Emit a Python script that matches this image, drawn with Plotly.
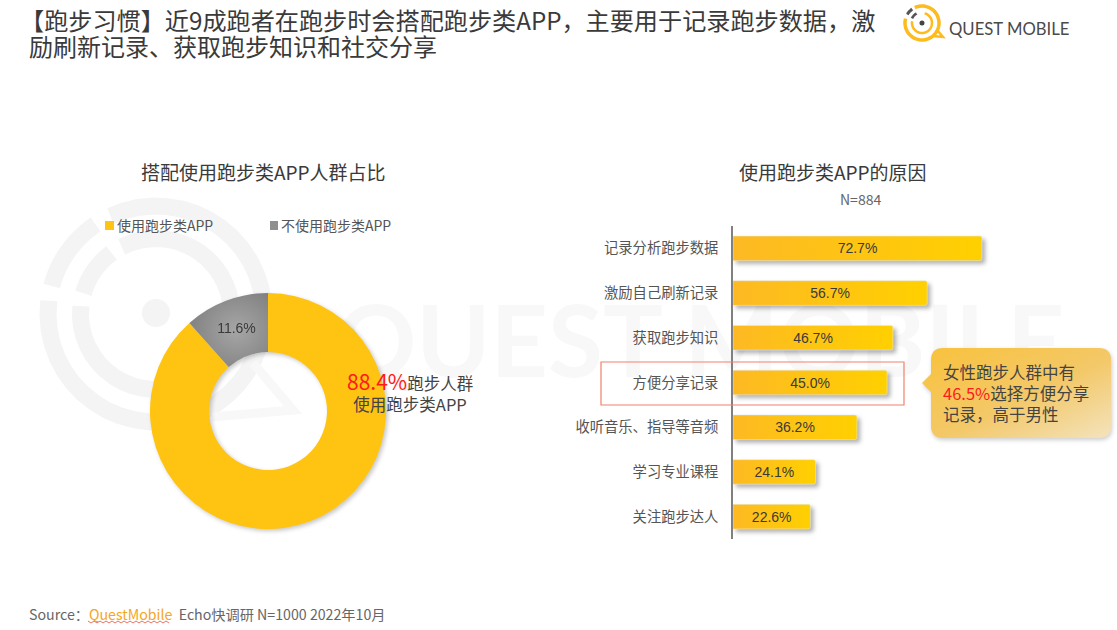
import numpy as np
import plotly.graph_objects as go

W, H = 1117, 630
CJK = 'Noto Sans CJK SC'

# 饼图数据
pie_labels = ['使用跑步类APP', '不使用跑步类APP']
pie_values = [88.4, 11.6]
pie_text = ['', '11.6%']
pie_colors = ['#ffc312', '#8f8f8f']

# 条形图数据
reasons = ['记录分析跑步数据', '激励自己刷新记录', '获取跑步知识', '方便分享记录',
           '收听音乐、指导等音频', '学习专业课程', '关注跑步达人']
reason_values = [72.7, 56.7, 46.7, 45.0, 36.2, 24.1, 22.6]


def arc(cx, cy, r, a0, a1, n=40):
    # 圆弧路径,角度从正上方顺时针
    t = np.radians(np.linspace(a0, a1, n))
    xs = cx + r * np.sin(t)
    ys = cy - r * np.cos(t)
    return 'M' + ' L'.join(f'{x:.1f},{y:.1f}' for x, y in zip(xs, ys))


def texto(x, y, text, size=13, color='#555555', anchor='left', family=CJK):
    return dict(x=x, y=y, xref='x', yref='y', text=text, showarrow=False, xanchor=anchor,
                yanchor='middle', align=anchor if anchor != 'middle' else 'center',
                font=dict(size=size, color=color, family=family))


fig = go.Figure()

# 水印文字放在最底层
fig.add_trace(go.Scatter(x=[700], y=[352], mode='text', text=['QUEST MOBILE'], hoverinfo='skip',
                         showlegend=False, cliponaxis=False,
                         textfont=dict(size=100, color='#f8f8f8', family='Lato', weight=700)))

fig.add_trace(go.Bar(x=reason_values, y=reasons, orientation='h', xaxis='x2', yaxis='y2',
                     marker=dict(color='#ffc31a', cornerradius=2),
                     text=[f'{v:.1f}%' for v in reason_values], textposition='inside',
                     insidetextanchor='middle', constraintext='none',
                     textfont=dict(size=14, color='#3a3a3a', family='Liberation Sans'),
                     showlegend=False))

fig.add_trace(go.Pie(labels=pie_labels, values=pie_values, text=pie_text, textinfo='text',
                     sort=False, direction='clockwise', hole=0.5, rotation=0,
                     insidetextorientation='horizontal', textposition='inside',
                     marker=dict(colors=pie_colors), showlegend=False,
                     textfont=dict(size=14, color='#3a3a3a', family='Liberation Sans'),
                     domain=dict(x=[150 / W, 386 / W], y=[1 - 529 / H, 1 - 293 / H])))

wm = '#f4f4f4'
shapes = [
    # 水印圆环
    dict(type='path', path=arc(156, 314, 108, -25, 277), line=dict(color=wm, width=17), layer='below'),
    dict(type='path', path=arc(156, 314, 108, 285, 326), line=dict(color=wm, width=17), layer='below'),
    dict(type='path', path=arc(156, 314, 75.5, -27, 276), line=dict(color=wm, width=17), layer='below'),
    dict(type='path', path=arc(156, 314, 75.5, 286, 324), line=dict(color=wm, width=17), layer='below'),
    dict(type='circle', x0=142, x1=170, y0=299, y1=327, fillcolor=wm, line_width=0, layer='below'),
    dict(type='path', path='M253,363 L293,410 L212,417', line=dict(color='#f8f8f8', width=9), layer='below'),
    # 图例色块
    dict(type='rect', x0=105, x1=114, y0=221, y1=230, fillcolor=pie_colors[0], line_width=0),
    dict(type='rect', x0=270, x1=278, y0=221, y1=230, fillcolor=pie_colors[1], line_width=0),
    # 高亮框
    dict(type='rect', x0=601, x1=904, y0=362, y1=405, line=dict(color='#f0806c', width=1.2)),
    # 气泡
    dict(type='path', fillcolor='#f4c760', line_width=0,
         path='M943,348 L1099,348 Q1111,348 1111,360 L1111,426 Q1111,438 1099,438 L943,438 '
              'Q931,438 931,426 L931,392 L922,383 L931,374 L931,360 Q931,348 943,348 Z'),
    # logo
    dict(type='path', path=arc(922, 23, 17, -25, 285), line=dict(color='#fdbb1d', width=3.5)),
    dict(type='path', path=arc(922, 23, 10, 15, 280), line=dict(color='#fdbb1d', width=2.5)),
    dict(type='path', path='M933,36 L943,37 L937,30', line=dict(color='#fdbb1d', width=2.5)),
    dict(type='circle', x0=919.5, x1=924.5, y0=20.5, y1=25.5, fillcolor='#444444', line_width=0),
    dict(type='path', path=arc(922, 23, 17, 300, 325), line=dict(color='#555555', width=3)),
    dict(type='path', path=arc(922, 23, 11, 295, 330), line=dict(color='#555555', width=2.5)),
]

# Source 下的波浪线
wave = [f'{x},{622 + (1.2 if i % 2 else -1.2) * 0.8}' for i, x in enumerate(range(88, 172, 3))]
shapes.append(dict(type='path', path='M' + ' L'.join(wave), line=dict(color='#e8503a', width=0.8)))

annotations = [
    texto(18, 19, '【跑步习惯】近9成跑者在跑步时会搭配跑步类APP，主要用于记录跑步数据，激', 24.15, '#3a3a3a'),
    texto(27, 45, '励刷新记录、获取跑步知识和社交分享', 24, '#3a3a3a'),
    texto(947, 29, 'QUEST MOBILE', 16.7, '#4a4a4a', family='Lato'),
    texto(263, 171, '搭配使用跑步类APP人群占比', 19, '#3a3a3a', 'center'),
    texto(833, 171, '使用跑步类APP的原因', 19, '#3a3a3a', 'center'),
    texto(860, 199, 'N=884', 14, '#666666', 'center'),
    texto(115, 225, pie_labels[0], 14, '#555555'),
    texto(279, 225, pie_labels[1], 14, '#555555'),
    texto(410, 391, '<span style="color:#ff1a1a;font-size:21px">88.4%</span>跑步人群<br>使用跑步类APP',
          16.5, '#444444', 'center'),
    texto(941, 372, '女性跑步人群中有', 16.5, '#444444'),
    texto(941, 393, '<span style="color:#ff1a1a">46.5%</span>选择方便分享', 16.5, '#444444'),
    texto(941, 414, '记录，高于男性', 16.5, '#444444'),
    texto(27, 614, 'Source：<span style="color:#f5a623">QuestMobile</span>  Echo快调研 N=1000 2022年10月',
          14.2, '#666666'),
]

fig.update_layout(
    width=W, height=H, margin=dict(l=0, r=0, t=0, b=0),
    paper_bgcolor='white', plot_bgcolor='rgba(0,0,0,0)',
    bargap=0.45,
    xaxis=dict(domain=[0, 1], range=[0, W], visible=False, fixedrange=True),
    yaxis=dict(domain=[0, 1], range=[H, 0], visible=False, fixedrange=True),
    xaxis2=dict(domain=[733 / W, 1075.5 / W], range=[0, 100], visible=False, anchor='y2'),
    yaxis2=dict(domain=[1 - 539 / H, 1 - 226 / H], anchor='x2', autorange='reversed',
                showgrid=False, showline=True, linecolor='#808080', linewidth=1.5,
                ticks='', ticklabelstandoff=10,
                tickfont=dict(size=14.3, color='#555555', family=CJK)),
    shapes=shapes, annotations=annotations, showlegend=False,
)

# 渐变和阴影,plotly 本身不支持,页面加载后补上
post_js = """
document.body.style.margin = '0';
var svg = document.querySelector('.main-svg');
var defs = document.createElementNS('http://www.w3.org/2000/svg', 'defs');
defs.innerHTML = '<linearGradient id="barGrad"><stop offset="0" stop-color="#fdb924"/><stop offset="1" stop-color="#ffd000"/></linearGradient>'
  + '<linearGradient id="tipGrad" x1="0" y1="0" x2="1" y2="1"><stop offset="0" stop-color="#f9c23c"/><stop offset="0.55" stop-color="#f3c868"/><stop offset="1" stop-color="#f3e3bd"/></linearGradient>'
  + '<radialGradient id="greyGrad" cx="0.6" cy="0.5" r="0.7"><stop offset="0" stop-color="#a6a6a6"/><stop offset="1" stop-color="#7c7c7c"/></radialGradient>';
svg.appendChild(defs);
document.querySelectorAll('.bars .point path').forEach(function (p) {
  p.style.fill = 'url(#barGrad)';
  p.style.filter = 'drop-shadow(3px 3px 2px rgba(0,0,0,0.3))';
});
document.querySelectorAll('.shapelayer path').forEach(function (p) {
  if (p.style.fill === 'rgb(244, 199, 96)') {
    p.style.fill = 'url(#tipGrad)';
    p.style.filter = 'drop-shadow(1px 2px 2px rgba(0,0,0,0.2))';
  }
});
var fatias = document.querySelectorAll('.pielayer .slice path.surface');
if (fatias.length > 1) { fatias[1].style.fill = 'url(#greyGrad)'; }
document.querySelectorAll('.pielayer .trace').forEach(function (t) {
  t.style.filter = 'drop-shadow(2px 2px 2px rgba(0,0,0,0.22))';
});
"""

fig.write_html('out.html', post_script=post_js, config=dict(displayModeBar=False))
